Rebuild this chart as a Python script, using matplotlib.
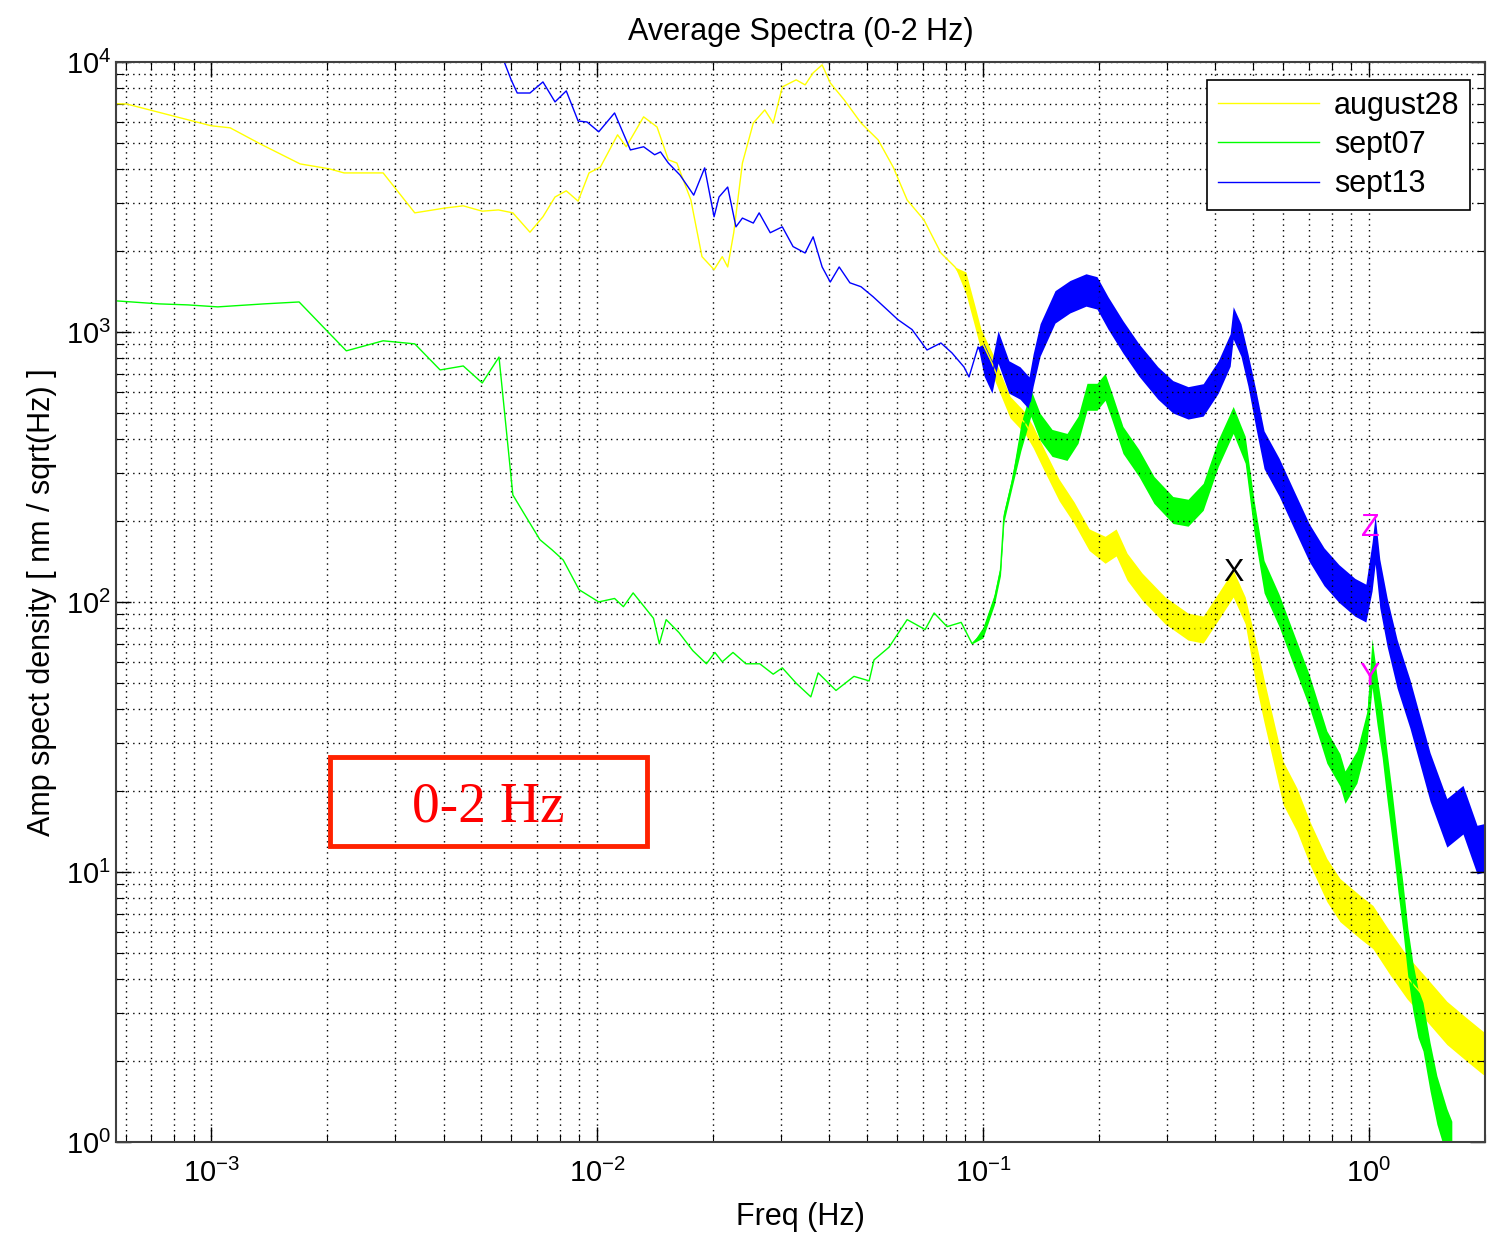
import matplotlib
matplotlib.use('Agg')
import matplotlib.pyplot as plt
from matplotlib.patches import Rectangle
import numpy as np

plt.rcParams['font.family'] = ['Liberation Sans', 'DejaVu Sans']
plt.rcParams['mathtext.default'] = 'regular'

# values (Hz, nm/sqrt(Hz))
aug28_f = [
    5.7e-4, 6.05e-4, 1.0e-3, 1.12e-3, 1.34e-3, 1.70e-3, 2.02e-3, 2.21e-3, 2.79e-3, 3.37e-3,
    4.06e-3, 4.50e-3, 5.04e-3, 5.55e-3, 6.05e-3, 6.70e-3, 7.24e-3, 7.78e-3, 8.32e-3, 8.93e-3,
    9.53e-3, 1.02e-2, 1.13e-2, 1.19e-2, 1.32e-2, 1.43e-2, 1.53e-2, 1.61e-2, 1.75e-2, 1.87e-2,
    2.01e-2, 2.11e-2, 2.18e-2, 2.26e-2, 2.38e-2, 2.54e-2, 2.72e-2, 2.86e-2, 3.02e-2, 3.28e-2,
    3.46e-2, 3.63e-2, 3.83e-2, 4.02e-2, 4.37e-2, 4.83e-2, 5.35e-2, 5.85e-2, 6.36e-2, 7.03e-2,
    7.78e-2, 8.46e-2, 9.03e-2, 9.53e-2, 9.88e-2, 0.1055, 0.1127, 0.1175, 0.1285, 0.1349,
    0.144, 0.1574, 0.1722, 0.1884, 0.2072, 0.2213, 0.2363, 0.2584, 0.2964, 0.340,
    0.372, 0.407, 0.445, 0.478, 0.510, 0.535, 0.599, 0.651, 0.703, 0.778,
    0.841, 0.948, 1.024, 1.133, 1.254, 1.413, 1.592, 1.795, 1.973, 2.05]
aug28_a = [
    7000, 6980, 5800, 5700, 4970, 4190, 4020, 3880, 3880, 2760,
    2880, 2930, 2800, 2830, 2760, 2340, 2670, 3160, 3330, 3050,
    3880, 4080, 5370, 4850, 6260, 5740, 4340, 4220, 3080, 1900,
    1700, 1900, 1740, 2330, 4220, 5940, 6640, 5940, 8080, 8580,
    8220, 9110, 9750, 8360, 7230, 5940, 5140, 4080, 3080, 2600,
    1960, 1740, 1520, 1140, 934, 767, 609, 527, 460, 408,
    336, 260, 214, 170, 156, 166, 135, 114, 93, 81,
    79, 96, 117, 93, 59, 43, 21.4, 17.0, 12.8, 9.33,
    7.87, 6.81, 6.25, 5.01, 4.08, 3.36, 2.76, 2.39, 2.14, 2.1]

sep07_f = [
    5.68e-4, 7.33e-4, 8.71e-4, 1.04e-3, 1.37e-3, 1.69e-3, 2.02e-3, 2.24e-3, 2.79e-3, 3.37e-3,
    3.92e-3, 4.50e-3, 5.04e-3, 5.57e-3, 6.05e-3, 6.50e-3, 7.11e-3, 7.64e-3, 8.17e-3, 8.98e-3,
    1.01e-2, 1.11e-2, 1.17e-2, 1.24e-2, 1.40e-2, 1.45e-2, 1.51e-2, 1.63e-2, 1.77e-2, 1.92e-2,
    2.02e-2, 2.11e-2, 2.25e-2, 2.43e-2, 2.64e-2, 2.86e-2, 3.02e-2, 3.28e-2, 3.58e-2, 3.74e-2,
    4.16e-2, 4.63e-2, 5.07e-2, 5.22e-2, 5.71e-2, 6.36e-2, 7.08e-2, 7.47e-2, 8.07e-2, 8.78e-2,
    9.37e-2, 0.100, 0.107, 0.111, 0.1133, 0.1188, 0.1254, 0.133, 0.1406, 0.151,
    0.1651, 0.1763, 0.186, 0.1974, 0.2072, 0.216, 0.2305, 0.2535, 0.2773, 0.3105,
    0.340, 0.372, 0.407, 0.445, 0.478, 0.504, 0.535, 0.585, 0.640, 0.700,
    0.778, 0.841, 0.867, 0.931, 0.989, 1.019, 1.050, 1.082, 1.115, 1.149,
    1.189, 1.225, 1.262, 1.300, 1.340, 1.381, 1.440, 1.500, 1.592, 1.640]
sep07_a = [
    1303, 1270, 1259, 1238, 1270, 1291, 991, 851, 927, 903,
    723, 748, 647, 807, 249, 210, 170, 156, 143, 111,
    100, 103, 96, 108, 87, 70, 86, 77, 66, 59,
    65, 60, 65, 59, 59, 54, 57, 50, 44.5, 54.6,
    47, 53, 51, 61, 68, 86, 79, 91, 81, 84,
    70, 77, 102, 131, 207, 276, 408, 546, 445, 388,
    375, 434, 575, 575, 626, 527, 398, 327, 260, 219,
    214, 245, 356, 472, 366, 207, 124, 93, 66, 47,
    29, 23.9, 20.6, 24.5, 34.4, 59.4, 43, 32.7, 22.5, 16,
    10.4, 7.42, 5.01, 3.75, 3.0, 2.67, 1.90, 1.43, 1.08, 0.97]

sep13_f = [
    5.6e-3, 5.99e-3, 6.21e-3, 6.70e-3, 7.24e-3, 7.78e-3, 8.32e-3, 8.93e-3, 9.42e-3, 1.01e-2,
    1.11e-2, 1.22e-2, 1.32e-2, 1.41e-2, 1.46e-2, 1.53e-2, 1.64e-2, 1.78e-2, 1.90e-2, 2.01e-2,
    2.07e-2, 2.18e-2, 2.29e-2, 2.38e-2, 2.54e-2, 2.63e-2, 2.81e-2, 3.02e-2, 3.22e-2, 3.46e-2,
    3.63e-2, 3.83e-2, 4.02e-2, 4.24e-2, 4.52e-2, 4.83e-2, 5.19e-2, 5.64e-2, 6.02e-2, 6.55e-2,
    7.16e-2, 7.78e-2, 8.31e-2, 8.93e-2, 9.20e-2, 9.71e-2, 0.1007, 0.1055, 0.1094, 0.1167,
    0.1247, 0.1316, 0.1349, 0.1406, 0.1537, 0.168, 0.1849, 0.1974, 0.2109, 0.2305,
    0.2535, 0.2838, 0.3105, 0.340, 0.372, 0.407, 0.437, 0.445, 0.466, 0.486,
    0.510, 0.535, 0.585, 0.640, 0.700, 0.765, 0.836, 0.920, 0.982, 1.019,
    1.038, 1.067, 1.115, 1.183, 1.277, 1.440, 1.592, 1.753, 1.906, 2.05]
sep13_a = [
    11000, 8580, 7670, 7670, 8430, 7110, 7810, 6040, 5990, 5510,
    6470, 4720, 4850, 4530, 4640, 4220, 3810, 3210, 4050, 2670,
    3160, 3440, 2450, 2640, 2530, 2760, 2330, 2450, 2070, 1960,
    2250, 1740, 1530, 1740, 1520, 1470, 1350, 1210, 1110, 1020,
    857, 910, 836, 741, 681, 880, 787, 681, 880, 681,
    647, 594, 723, 934, 1238, 1350, 1430, 1395, 1175, 958,
    787, 647, 575, 546, 560, 681, 857, 1080, 934, 723,
    514, 366, 290, 219, 166, 135, 117, 104, 99, 135,
    170, 117, 84, 59, 42, 22.5, 15.2, 17, 12.1, 12.4]

# half width (decades) of the noise band, switched at these frequencies
aug28_band_edges = [0.09, 0.2, 0.5]
aug28_band = [0.0, 0.04, 0.05, 0.08]
sep07_band_edges = [0.1, 0.12, 0.5, 1.0]
sep07_band = [0.0, 0.02, 0.05, 0.06, 0.09]
sep13_band_edges = [0.1, 0.5, 1.0]
sep13_band = [0.0, 0.06, 0.07, 0.09]

peak_marks = [('X', 0.445, 128, 'k'), ('Z', 1.006, 188, '#ff00ff'), ('Y', 1.006, 52.7, '#ff00ff')]

series = [
    ('august28', aug28_f, aug28_a, aug28_band_edges, aug28_band, '#ffff00'),
    ('sept07', sep07_f, sep07_a, sep07_band_edges, sep07_band, '#00ff00'),
    ('sept13', sep13_f, sep13_a, sep13_band_edges, sep13_band, '#0000ff'),
]

fig = plt.figure(figsize=(14.9, 12.43), dpi=100)
ax = fig.add_axes([0.0779, 0.0813, 0.9188, 0.8689])

for name, f, a, edges, widths, col in series:
    f = np.array(f)
    a = np.array(a)
    w = np.array(widths)[np.searchsorted(edges, f, side='right')]
    ax.fill_between(f, a / 10**w, a * 10**w, color=col, lw=0)
    ax.plot(f, a, color=col, lw=1.0, label=name)

for txt, fx, ay, col in peak_marks:
    ax.text(fx, ay, txt, color=col, fontsize=22, ha='center', va='center')

ax.set_xscale('log')
ax.set_yscale('log')
ax.set_xlim(5.67e-4, 2.0)
ax.set_ylim(1, 1e4)

ax.grid(True, which='both', linestyle=(0, (1, 3)), color='k', lw=1.0)
ax.tick_params(which='both', direction='in', top=True, right=True, labelsize=21, colors='k')
ax.tick_params(which='major', length=11, width=1)
ax.tick_params(which='minor', length=6, width=0.8)
ax.tick_params(axis='x', pad=12)
for s in ax.spines.values():
    s.set_linewidth(1.5)
    s.set_color('0.25')

ax.set_title('Average Spectra (0-2 Hz)', fontsize=22, pad=16)
ax.set_xlabel('Freq (Hz)', fontsize=22, labelpad=10)
ax.set_ylabel('Amp spect density [ nm / sqrt(Hz) ]', fontsize=22, labelpad=6)

leg = ax.legend(loc='upper right', bbox_to_anchor=(0.989, 0.983), borderaxespad=0,
                fontsize=22, handlelength=3.3, fancybox=False, framealpha=1,
                labelspacing=0.3, borderpad=0.35, handletextpad=0.5)
leg.get_frame().set_edgecolor('k')
leg.get_frame().set_linewidth(1.2)

ax.add_patch(Rectangle((0.156, 0.274), 0.232, 0.082, transform=ax.transAxes,
                       fill=False, edgecolor='#ff2200', lw=3.5, zorder=5))
ax.text(0.272, 0.31, '0-2 Hz', transform=ax.transAxes, color='#ff0000',
        fontsize=40, family=['Liberation Serif', 'DejaVu Serif'],
        ha='center', va='center', zorder=6)

plt.savefig('out.png', dpi=100)
